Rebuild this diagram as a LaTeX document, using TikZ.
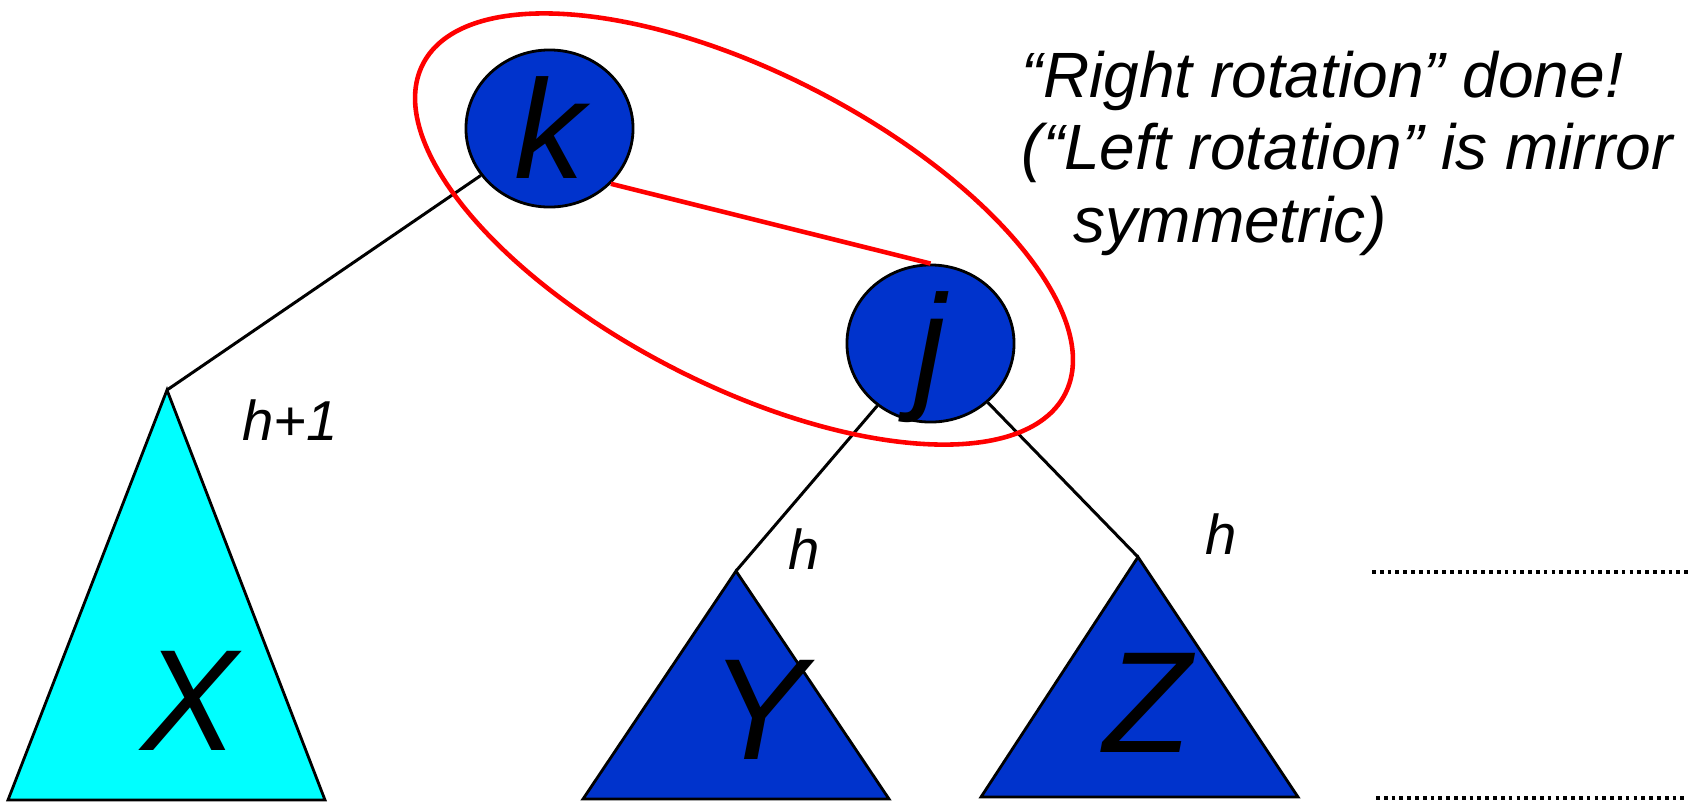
\documentclass[tikz,border=0pt]{standalone}
\usepackage{fontspec}
\setmainfont{Liberation Sans}
\usepackage{tikz}
\usetikzlibrary{shapes.geometric}

\definecolor{keyblue}{RGB}{0,51,204}
\definecolor{treecyan}{RGB}{0,255,255}

\begin{document}
\begin{tikzpicture}[
  x=0.01cm, y=-0.01cm,
  font=\itshape,
  keynode/.style={ellipse, draw, fill=keyblue, line width=0.8pt, minimum width=1.67cm, minimum height=1.57cm, inner sep=0pt, text height=28.6pt, text depth=0pt, font=\fontsize{40}{40}\selectfont\itshape},
  subtree/.style={draw, line width=0.8pt, line join=miter},
  bigletter/.style={inner sep=0pt, font=\fontsize{41}{41}\selectfont\itshape},
  hlabel/.style={inner sep=0pt, font=\fontsize{16}{16}\selectfont\itshape},
  link/.style={line width=0.85pt},
  redlink/.style={red, line width=1.3pt},
  dotline/.style={line width=1.05pt, dash pattern=on 0.037cm off 0.041cm},
]
\useasboundingbox (0,0) rectangle (1700,802);

\coordinate (xtop) at (167,390);
\coordinate (ytop) at (736,571);
\coordinate (ztop) at (1138,557);

\draw[subtree, fill=treecyan] (xtop) -- (8,800) -- (325,800) -- cycle;
\draw[subtree, fill=keyblue] (ytop) -- (583,799) -- (889,799) -- cycle;
\draw[subtree, fill=keyblue] (ztop) -- (981,797) -- (1298,797) -- cycle;
\node[bigletter] (xname) at (190,701) {X};
\node[bigletter] (yname) at (759,710) {Y};
\node[bigletter] (zname) at (1148,703) {Z};

\node[keynode] (k) at (549.5,128.5) {k};
\node[keynode] (j) at (930.5,343.5) {j};

\draw[link] (k) -- (xtop);
\draw[link] (j) -- (ytop);
\draw[link] (j) -- (ztop);
\draw[redlink] (k.-42) -- (j.north);

\node[hlabel] (hx) at (290,420) {h+1};
\node[hlabel] (hy) at (804,549) {h};
\node[hlabel] (hz) at (1221,534) {h};

\draw[redlink, rotate around={-27.2:(744,229)}] (744,229) ellipse [x radius=361, y radius=156];

\node[anchor=north west, inner sep=0pt, align=left, font=\fontsize{18.2}{20.7}\selectfont\itshape] (note) at (1021,50)
  {“Right rotation” done!\\(“Left rotation” is mirror\\\hspace*{0.52cm}symmetric)};

\foreach \y/\x in {572/1372, 798/1376} \draw[dotline] (\x,\y) -- (1688,\y);
\end{tikzpicture}
\end{document}
